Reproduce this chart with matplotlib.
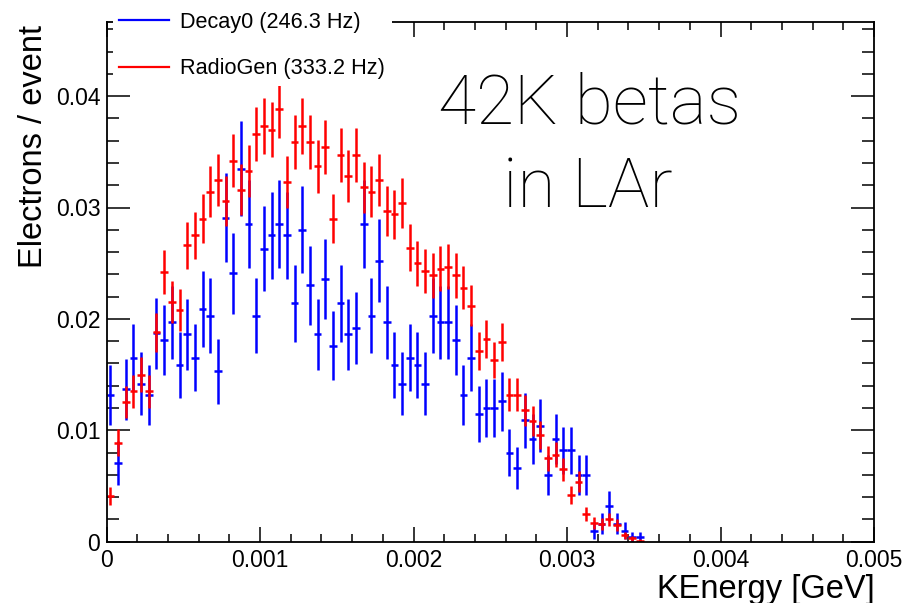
import numpy as np
import matplotlib
matplotlib.use("Agg")
import matplotlib.pyplot as plt
from matplotlib.lines import Line2D
from matplotlib.ticker import FixedLocator, FixedFormatter, MultipleLocator

plt.rcParams['font.family'] = ['Liberation Sans', 'DejaVu Sans']

# ---------------- data ----------------
bin_width = 0.00005          # GeV, histogram bin width (bins start at 0)

decay0 = [0.0132, 0.0071, 0.0137, 0.0165, 0.0142, 0.0132, 0.0187, 0.0181, 0.0197, 0.0159,
          0.0186, 0.0165, 0.0209, 0.0203, 0.0153, 0.0291, 0.0241, 0.0335, 0.0285, 0.0203,
          0.0263, 0.0275, 0.0285, 0.0275, 0.0214, 0.0280, 0.0230, 0.0186, 0.0236, 0.0176,
          0.0214, 0.0186, 0.0192, 0.0285, 0.0203, 0.0252, 0.0197, 0.0159, 0.0142, 0.0165,
          0.0159, 0.0142, 0.0203, 0.0197, 0.0197, 0.0181, 0.0132, 0.0165, 0.0115, 0.0120,
          0.0120, 0.0126, 0.0080, 0.0066, 0.0109, 0.0092, 0.0104, 0.0060, 0.0092, 0.0082,
          0.0082, 0.0060, 0.0060, 0.0010, 0.0016, 0.0032, 0.0016, 0.0010, 0.0004, 0.0004]

radiogen = [0.0041, 0.0089, 0.0125, 0.0135, 0.0150, 0.0135, 0.0188, 0.0242, 0.0215, 0.0208,
            0.0266, 0.0275, 0.0290, 0.0314, 0.0325, 0.0306, 0.0342, 0.0316, 0.0333, 0.0366,
            0.0373, 0.0370, 0.0388, 0.0323, 0.0359, 0.0373, 0.0359, 0.0337, 0.0354, 0.0290,
            0.0347, 0.0328, 0.0347, 0.0318, 0.0314, 0.0325, 0.0297, 0.0294, 0.0304, 0.0264,
            0.0250, 0.0243, 0.0239, 0.0245, 0.0247, 0.0239, 0.0228, 0.0212, 0.0171, 0.0182,
            0.0163, 0.0179, 0.0132, 0.0132, 0.0118, 0.0108, 0.0096, 0.0075, 0.0078, 0.0065,
            0.0042, 0.0054, 0.0025, 0.0017, 0.0016, 0.0020, 0.0015, 0.0006, 0.0003, 0.0001]

# per-entry weights (electrons/event per entry) -> statistical errors sqrt(N)*w
decay0_weight = 5.5e-4
radiogen_weight = 1.66e-4

legend_labels = ['Decay0 (246.3 Hz)', 'RadioGen (333.2 Hz)']
x_ticks = [0.0, 0.001, 0.002, 0.003, 0.004, 0.005]
x_tick_labels = ['0', '0.001', '0.002', '0.003', '0.004', '0.005']
y_ticks = [0.0, 0.01, 0.02, 0.03, 0.04]
y_tick_labels = ['0', '0.01', '0.02', '0.03', '0.04']
x_label = 'KEnergy [GeV]'
y_label = 'Electrons / event'
annotation = ['42K betas', 'in LAr']

# ---------------- figure ----------------
W, H = 905, 603
fig = plt.figure(figsize=(W / 100, H / 100), dpi=100)
ax_l, ax_r, ax_b, ax_t = 106.6, 874.0, 541.7, 21.7
ax = fig.add_axes([ax_l / W, 1 - ax_b / H, (ax_r - ax_l) / W, (ax_b - ax_t) / H])

def draw(vals, weight, color):
    v = np.asarray(vals)
    x = (np.arange(len(v)) + 0.5) * bin_width
    err = np.sqrt(v * weight)
    ax.errorbar(x, v, yerr=err, xerr=bin_width / 2, fmt='none', ecolor=color,
                elinewidth=1.8, capsize=0)

draw(decay0, decay0_weight, (0, 0, 1))
draw(radiogen, radiogen_weight, (1, 0, 0))

ax.set_xlim(0, 0.005)
ax.set_ylim(0, (ax_b - ax_t) / 11140.0)

ax.xaxis.set_major_locator(FixedLocator(x_ticks))
ax.xaxis.set_major_formatter(FixedFormatter(x_tick_labels))
ax.yaxis.set_major_locator(FixedLocator(y_ticks))
ax.yaxis.set_major_formatter(FixedFormatter(y_tick_labels))
ax.xaxis.set_minor_locator(MultipleLocator(0.0002))
ax.yaxis.set_minor_locator(MultipleLocator(0.002))

ax.tick_params(axis='both', which='both', direction='in', top=True, right=True,
               width=1.1, colors='black')
ax.tick_params(axis='y', which='major', length=16.5, labelsize=16.5, pad=4.5)
ax.tick_params(axis='y', which='minor', length=8.5)
ax.tick_params(axis='x', which='major', length=10.8, labelsize=16.5, pad=5.5)
ax.tick_params(axis='x', which='minor', length=5.8)
for s in ax.spines.values():
    s.set_linewidth(1.3)

ax.set_xlabel(x_label, fontsize=23.5, loc='right')
ax.xaxis.set_label_coords((875 - ax_l) / (ax_r - ax_l), (ax_b - 597.6) / (ax_b - ax_t))
ax.xaxis.label.set_va('baseline')
ax.set_ylabel(y_label, fontsize=23.5, loc='top')
ax.yaxis.set_label_coords((49 - ax_l) / (ax_r - ax_l), (ax_b - 25) / (ax_b - ax_t))

handles = [Line2D([], [], color=(0, 0, 1), lw=1.6), Line2D([], [], color=(1, 0, 0), lw=1.6)]
fs = 15.6
fs_px = fs * 100 / 72
leg = ax.legend(handles, legend_labels, loc='upper left',
                bbox_to_anchor=(112.8 / W, 1 - 5.2 / H), bbox_transform=fig.transFigure,
                borderaxespad=0, borderpad=0.3, frameon=True, fancybox=False,
                facecolor='white', edgecolor='none', framealpha=1,
                handlelength=50 / fs_px, handletextpad=11 / fs_px,
                labelspacing=1.19, prop={'size': fs})

fig.text(0.651, 1 - 123 / H, annotation[0], ha='center', va='baseline',
         fontsize=50, family=['Roboto', 'DejaVu Sans'], fontweight='light')
fig.text(0.649, 1 - 207 / H, annotation[1], ha='center', va='baseline',
         fontsize=50, family=['Roboto', 'DejaVu Sans'], fontweight='light')

fig.savefig('out.png', dpi=100)
